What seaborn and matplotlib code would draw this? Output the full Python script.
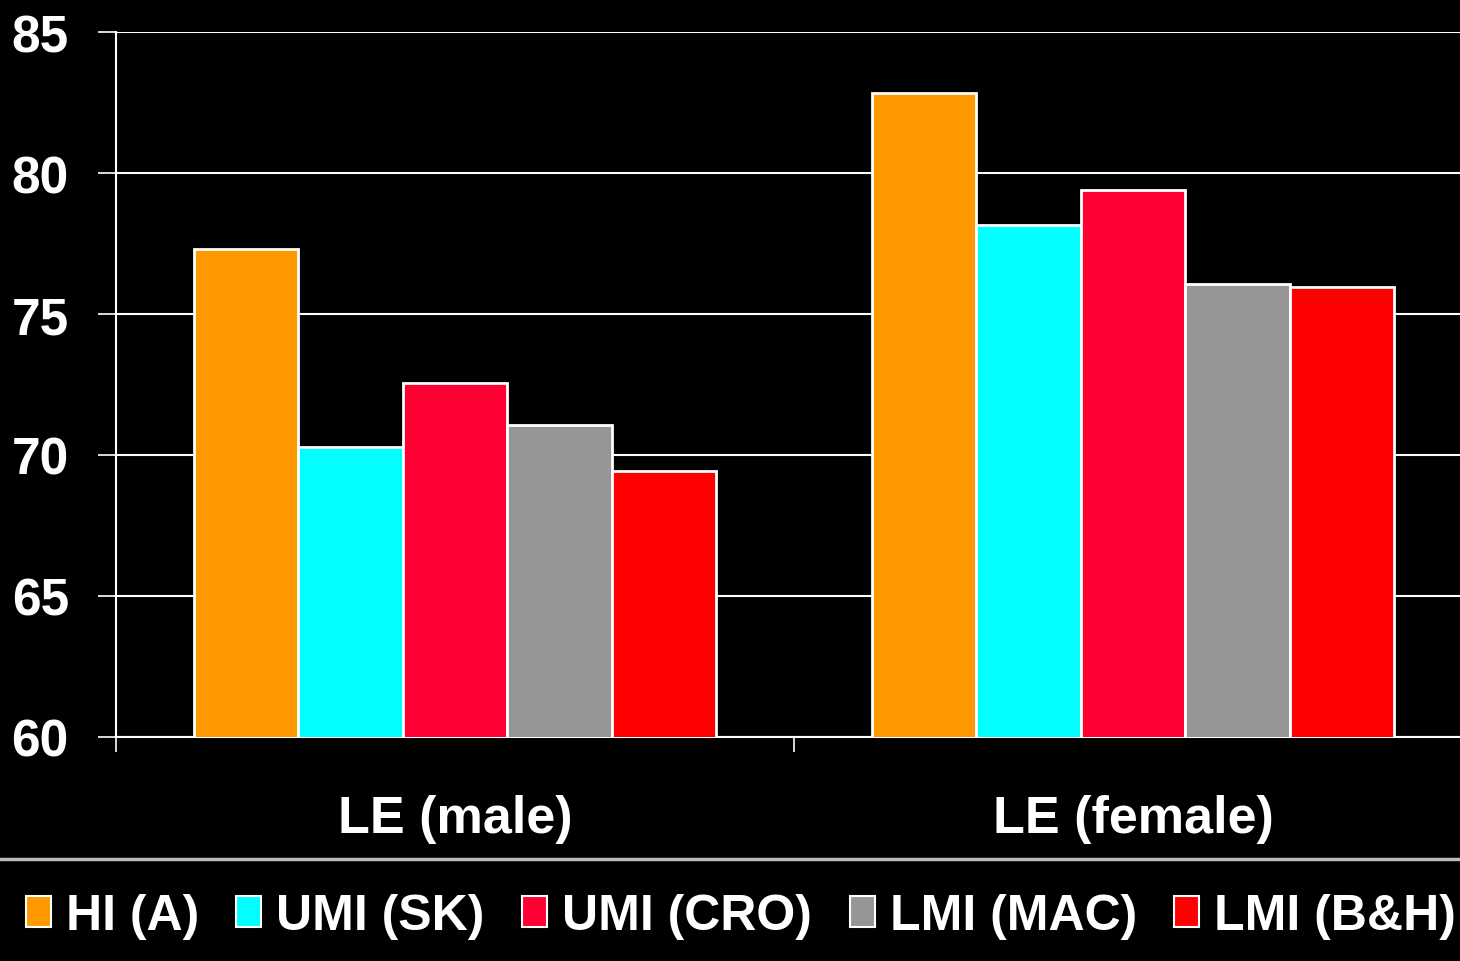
import matplotlib
matplotlib.use("Agg")
import matplotlib.pyplot as plt
from matplotlib.lines import Line2D
import seaborn as sns
import pandas as pd

categories = ["LE (male)", "LE (female)"]
series = ["HI (A)", "UMI (SK)", "UMI (CRO)", "LMI (MAC)", "LMI (B&H)"]
male_values = [77.3, 70.3, 72.55, 71.05, 69.45]
female_values = [82.85, 78.15, 79.4, 76.05, 75.95]
colors = ["#FF9900", "#00FFFF", "#FF0033", "#969696", "#FF0000"]
y_ticks = [60, 65, 70, 75, 80, 85]

rows = []
for s, m, f in zip(series, male_values, female_values):
    rows.append({"cat": categories[0], "series": s, "value": m})
    rows.append({"cat": categories[1], "series": s, "value": f})
df = pd.DataFrame(rows)

sns.set_theme(style="dark")
plt.rcParams["font.family"] = ["Liberation Sans", "DejaVu Sans"]
plt.rcParams["font.weight"] = "bold"

fig = plt.figure(figsize=(14.6, 9.62), dpi=100, facecolor="black")
ax = fig.add_axes([116 / 1460, 1 - 738 / 962, 1356 / 1460, (738 - 33) / 962])
ax.set_facecolor("black")

sns.barplot(data=df, x="cat", y="value", hue="series", order=categories,
            hue_order=series, palette=colors, saturation=1, width=0.77, gap=0,
            edgecolor="white", linewidth=2, ax=ax, zorder=3, legend=True)

ax.set_ylim(60, 85)
ax.set_xlim(-0.5, 1.5)
ax.set_yticks(y_ticks)
ax.set_yticklabels([str(t) for t in y_ticks])
ax.yaxis.grid(True, color="white", linewidth=1.5, zorder=0)
ax.xaxis.grid(False)
ax.set_axisbelow(True)
for b in ax.patches:
    b.set_zorder(3)

for side in ["top", "right"]:
    ax.spines[side].set_visible(False)
for side in ["left", "bottom"]:
    ax.spines[side].set_visible(True)
    ax.spines[side].set_color("white")
    ax.spines[side].set_linewidth(1.5)

ax.tick_params(axis="y", which="major", colors="white", length=13, width=1.2,
               pad=21, labelsize=37, left=True)
for lab in ax.get_yticklabels():
    lab.set_fontweight("bold")

ax.set_xticks([0, 1])
ax.set_xticklabels(categories)
ax.set_xticks([-0.5, 0.5, 1.5], minor=True)
ax.tick_params(axis="x", which="major", length=0, pad=41, labelsize=37.5,
               labelcolor="white")
ax.tick_params(axis="x", which="minor", length=11, width=1.2, color="white",
               bottom=True)
for lab in ax.get_xticklabels():
    lab.set_fontweight("bold")
ax.set_xlabel("")
ax.set_ylabel("")

handles, labels = ax.get_legend_handles_labels()
ax.legend_.remove()
leg = fig.legend(handles, labels, loc="center",
                 bbox_to_anchor=(741 / 1460, 1 - 917 / 962),
                 ncol=5, frameon=False, fontsize=36, handlelength=0.5,
                 handleheight=0.6, handletextpad=0.3, columnspacing=0.75,
                 borderaxespad=0)
for t in leg.get_texts():
    t.set_color("white")
    t.set_fontweight("bold")
for h in leg.legend_handles:
    h.set_edgecolor("white")
    h.set_linewidth(1.5)

fig.add_artist(Line2D([0, 1], [1 - 860 / 962, 1 - 860 / 962],
                      transform=fig.transFigure, color="#bbbbbb", linewidth=2.5))

fig.savefig("out.png", dpi=100, facecolor="black")
